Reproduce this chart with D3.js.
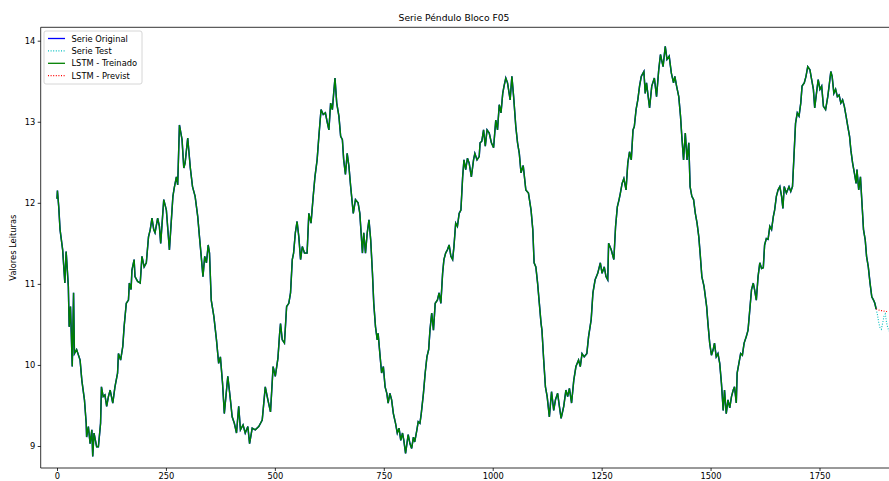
<!DOCTYPE html>
<html>
<head>
<meta charset="utf-8">
<script src="https://cdn.jsdelivr.net/npm/d3@7"></script>
<style>
  body { margin: 0; background: #fff; }
  svg { display: block; font-family: "DejaVu Sans", sans-serif; }
</style>
</head>
<body>
<div id="chart"></div>
<script>
// Training part (original series and LSTM fit), index / value
const trainIdx = [0,1,4,7,13,18,21,26,28,31,35,38,40,45,53,57,63,67,68,72,76,80,82,85,91,95,100,102,106,110,114,118,122,128,133,139,141,146,151,154,159,164,166,170,172,177,179,185,191,195,200,205,210,214,218,222,225,231,235,238,245,251,258,266,269,274,277,281,287,291,294,300,306,311,317,323,327,331,335,339,343,347,350,354,360,366,371,375,380,384,392,398,402,407,412,417,421,427,432,438,442,448,455,463,471,478,484,490,496,501,507,511,513,517,522,527,532,536,540,543,547,551,555,559,563,568,574,578,583,588,592,597,601,606,611,616,620,624,628,632,635,638,642,647,651,655,658,662,666,670,674,680,685,691,695,701,704,708,712,716,720,724,727,731,735,737,741,745,749,753,757,760,764,768,772,777,781,785,789,793,796,800,806,810,814,818,821,826,829,833,836,841,845,849,853,856,860,864,868,873,877,881,885,888,892,896,900,904,908,911,915,919,923,927,931,934,938,942,946,951,956,959,964,969,971,975,979,983,987,992,997,1002,1007,1011,1015,1019,1023,1026,1030,1034,1040,1044,1048,1053,1057,1061,1065,1070,1076,1082,1088,1092,1095,1099,1103,1107,1111,1113,1117,1121,1125,1130,1135,1140,1144,1149,1153,1157,1163,1168,1172,1176,1181,1186,1191,1197,1201,1205,1210,1216,1220,1226,1230,1235,1241,1247,1251,1256,1260,1264,1266,1272,1278,1282,1286,1290,1293,1297,1301,1306,1310,1314,1318,1322,1325,1329,1333,1337,1341,1347,1350,1353,1360,1365,1371,1376,1381,1385,1391,1396,1400,1405,1410,1415,1418,1422,1427,1431,1434,1438,1442,1446,1450,1453,1457,1461,1465,1469,1473,1476,1480,1485,1491,1494,1498,1502,1506,1509,1513,1517,1521,1525,1529,1532,1536,1540,1544,1548,1552,1555,1559,1561,1565,1569,1573,1577,1582,1586,1590,1594,1598,1601,1605,1609,1613,1617,1621,1624,1628,1632,1636,1640,1644,1647,1651,1655,1659,1663,1666,1669,1674,1680,1684,1688,1691,1695,1699,1703,1707,1710,1715,1719,1723,1728,1732,1736,1739,1743,1747,1751,1755,1759,1764,1769,1772,1776,1779,1783,1787,1791,1795,1799,1803,1807,1811,1815,1819,1822,1826,1830,1834,1836,1840,1844,1847,1851,1855,1858,1862,1866,1870,1874,1877,1880];
const trainVal = [12.05,12.15,11.95,11.67,11.42,11.01,11.40,10.97,10.47,10.72,9.98,10.89,10.14,10.19,10.06,9.81,9.57,9.28,9.11,9.24,9.03,9.20,8.87,9.16,8.99,8.99,9.28,9.73,9.61,9.63,9.49,9.61,9.69,9.53,9.73,9.90,10.14,10.06,10.23,10.47,10.76,10.80,11.01,10.93,11.17,11.30,11.09,11.03,11.01,11.34,11.21,11.26,11.58,11.67,11.81,11.67,11.63,11.81,11.71,11.50,12.04,11.91,11.42,12.08,12.18,12.32,12.22,12.96,12.78,12.43,12.49,12.80,12.43,12.20,12.08,11.83,11.58,11.34,11.09,11.34,11.26,11.48,11.38,10.80,10.60,10.31,10.02,10.10,9.77,9.40,9.86,9.57,9.36,9.28,9.16,9.49,9.20,9.26,9.16,9.24,9.03,9.22,9.20,9.24,9.32,9.73,9.57,9.42,9.98,9.86,10.08,10.39,10.51,10.31,10.27,10.72,10.76,10.89,11.30,11.38,11.63,11.77,11.58,11.30,11.46,11.38,11.38,11.87,11.75,12.08,12.32,12.53,12.82,13.15,13.09,13.11,13.00,12.90,13.23,13.15,13.35,13.54,13.23,13.07,12.82,12.78,12.53,12.35,12.61,12.45,12.20,11.87,12.04,12.00,11.87,11.38,11.63,11.38,11.63,11.79,11.54,11.13,10.76,10.47,10.31,10.39,10.14,9.90,9.98,9.73,9.65,9.53,9.65,9.57,9.40,9.28,9.16,9.22,9.07,9.16,9.07,8.91,9.14,9.03,8.97,9.11,9.05,9.20,9.30,9.28,9.40,9.65,9.90,10.10,10.19,10.43,10.64,10.43,10.76,10.80,10.89,10.76,11.13,11.30,11.38,11.42,11.48,11.34,11.30,11.46,11.75,11.71,11.87,11.91,12.32,12.53,12.41,12.55,12.49,12.32,12.53,12.61,12.53,12.57,12.74,12.76,12.90,12.70,12.90,12.86,12.74,12.68,13.02,12.90,13.21,13.11,13.35,13.44,13.54,13.48,13.27,13.56,13.31,12.94,12.74,12.61,12.37,12.46,12.16,12.12,11.91,11.67,11.26,11.21,11.01,10.76,10.51,10.43,10.06,9.73,9.61,9.36,9.67,9.44,9.57,9.65,9.49,9.34,9.49,9.69,9.61,9.71,9.53,9.81,9.98,10.06,9.98,10.14,10.10,10.14,10.35,10.56,10.89,11.05,11.13,11.26,11.13,11.21,11.09,11.05,11.50,11.42,11.30,11.71,11.95,12.04,12.12,12.24,12.30,12.16,12.49,12.63,12.53,12.90,12.94,13.15,13.27,13.44,13.56,13.62,13.35,13.48,13.17,13.44,13.54,13.31,13.64,13.83,13.68,13.93,13.77,13.81,13.60,13.48,13.56,13.44,13.31,13.07,12.82,12.53,12.86,12.53,12.74,12.20,12.08,12.04,11.87,11.75,11.58,11.38,11.09,10.97,10.72,10.51,10.27,10.12,10.19,10.27,10.10,10.14,10.02,9.77,9.44,9.69,9.40,9.57,9.47,9.61,9.69,9.73,9.53,9.90,10.02,10.14,10.12,10.27,10.35,10.43,10.68,10.93,11.01,10.93,10.80,11.09,11.26,11.19,11.20,11.48,11.56,11.55,11.71,11.67,11.83,11.91,12.08,12.16,12.20,12.08,11.93,12.20,12.12,12.20,12.14,12.20,12.53,12.98,13.11,13.07,13.23,13.44,13.48,13.56,13.68,13.64,13.52,13.40,13.17,13.35,13.52,13.40,13.44,13.19,13.15,13.31,13.44,13.62,13.56,13.35,13.40,13.31,13.33,13.23,13.27,13.19,13.07,12.94,12.82,12.65,12.49,12.37,12.24,12.41,12.16,12.32,12.04,11.67,11.54,11.34,11.21,11.01,10.84,10.80,10.76,10.69];

// Test part of the original series
const testIdx = [1880,1883,1886,1889,1892,1895,1898,1901,1904,1907,1910,1913];
const testVal = [10.69,10.62,10.52,10.46,10.44,10.52,10.60,10.63,10.52,10.45,10.42,10.46];

// LSTM forecast
const prevIdx = [1880,1885,1890,1895,1900,1905];
const prevVal = [10.69,10.68,10.67,10.67,10.66,10.66];

const xTicks = [0, 250, 500, 750, 1000, 1250, 1500, 1750];
const yTicks = [9, 10, 11, 12, 13, 14];

const W = 889, H = 481;
const plotLeft = 40.7, plotTop = 27.3, plotBottom = 468, plotRight = 905;

const svg = d3.select("#chart").append("svg")
  .attr("width", W).attr("height", H);

const x = d3.scaleLinear().domain([0, 1750]).range([57, 819.5]);
const y = d3.scaleLinear().domain([9, 14]).range([446, 40.7]);

svg.append("defs").append("clipPath").attr("id", "clip")
  .append("rect").attr("x", plotLeft).attr("y", plotTop)
  .attr("width", plotRight - plotLeft).attr("height", plotBottom - plotTop);

const line = d3.line()
  .defined(d => d[1] != null)
  .x(d => x(d[0])).y(d => y(d[1]));
const zip = (a, b) => a.map((v, i) => [v, b[i]]);

const plot = svg.append("g").attr("clip-path", "url(#clip)");

plot.append("path").datum(zip(trainIdx, trainVal))
  .attr("d", line).attr("fill", "none")
  .attr("stroke", "#0000ff").attr("stroke-width", 1.5);
plot.append("path").datum(zip(testIdx, testVal))
  .attr("d", line).attr("fill", "none")
  .attr("stroke", "#00bfbf").attr("stroke-width", 1.1)
  .attr("stroke-dasharray", "1,1.6");
plot.append("path").datum(zip(trainIdx, trainVal))
  .attr("d", line).attr("fill", "none")
  .attr("stroke", "#008000").attr("stroke-width", 1.4);
plot.append("path").datum(zip(prevIdx, prevVal))
  .attr("d", line).attr("fill", "none")
  .attr("stroke", "#ff0000").attr("stroke-width", 1.1)
  .attr("stroke-dasharray", "1,1.6");

// axes
const xAxis = svg.append("g")
  .attr("transform", `translate(0,${plotBottom})`)
  .call(d3.axisBottom(x).tickValues(xTicks).tickFormat(d3.format("d"))
    .tickSize(3).tickPadding(2).tickSizeOuter(0));
const yAxis = svg.append("g")
  .attr("transform", `translate(${plotLeft},0)`)
  .call(d3.axisLeft(y).tickValues(yTicks).tickFormat(d3.format("d"))
    .tickSize(3).tickPadding(2.5).tickSizeOuter(0));

[xAxis, yAxis].forEach(g => {
  g.select(".domain").remove();
  g.selectAll("text").attr("font-size", 8.3).attr("font-family", "DejaVu Sans").attr("fill", "#000");
  g.selectAll("line").attr("stroke", "#000").attr("stroke-width", 0.8);
});

// spines
svg.append("line").attr("x1", plotLeft).attr("x2", plotLeft).attr("y1", plotTop).attr("y2", plotBottom)
  .attr("stroke", "#000").attr("stroke-width", 0.8);
svg.append("line").attr("x1", plotLeft).attr("x2", W).attr("y1", plotBottom).attr("y2", plotBottom)
  .attr("stroke", "#000").attr("stroke-width", 0.8);
svg.append("line").attr("x1", plotLeft).attr("x2", W).attr("y1", plotTop).attr("y2", plotTop)
  .attr("stroke", "#000").attr("stroke-width", 0.8);

// title and label
svg.append("text").attr("x", 454).attr("y", 21)
  .attr("text-anchor", "middle").attr("font-size", 9.2)
  .text("Serie Péndulo Bloco F05");
svg.append("text")
  .attr("transform", `translate(16,${(plotTop + plotBottom) / 2}) rotate(-90)`)
  .attr("text-anchor", "middle").attr("font-size", 8.3)
  .text("Valores Leituras");

// legend
const legendItems = [
  { label: "Serie Original", color: "#0000ff", dash: null },
  { label: "Serie Test", color: "#00bfbf", dash: "1,1.6" },
  { label: "LSTM - Treinado", color: "#008000", dash: null },
  { label: "LSTM - Previst", color: "#ff0000", dash: "1,1.6" }
];
const lg = svg.append("g");
lg.append("rect").attr("x", 44).attr("y", 31).attr("width", 98).attr("height", 53)
  .attr("rx", 2).attr("fill", "#fff").attr("fill-opacity", 0.8)
  .attr("stroke", "#cccccc").attr("stroke-width", 0.8);
legendItems.forEach((d, i) => {
  const cy = 38.5 + i * 12.4;
  lg.append("line").attr("x1", 48).attr("x2", 65).attr("y1", cy).attr("y2", cy)
    .attr("stroke", d.color).attr("stroke-width", 1.3)
    .attr("stroke-dasharray", d.dash);
  lg.append("text").attr("x", 71.5).attr("y", cy + 3)
    .attr("font-size", 8.3).text(d.label);
});
</script>
</body>
</html>
